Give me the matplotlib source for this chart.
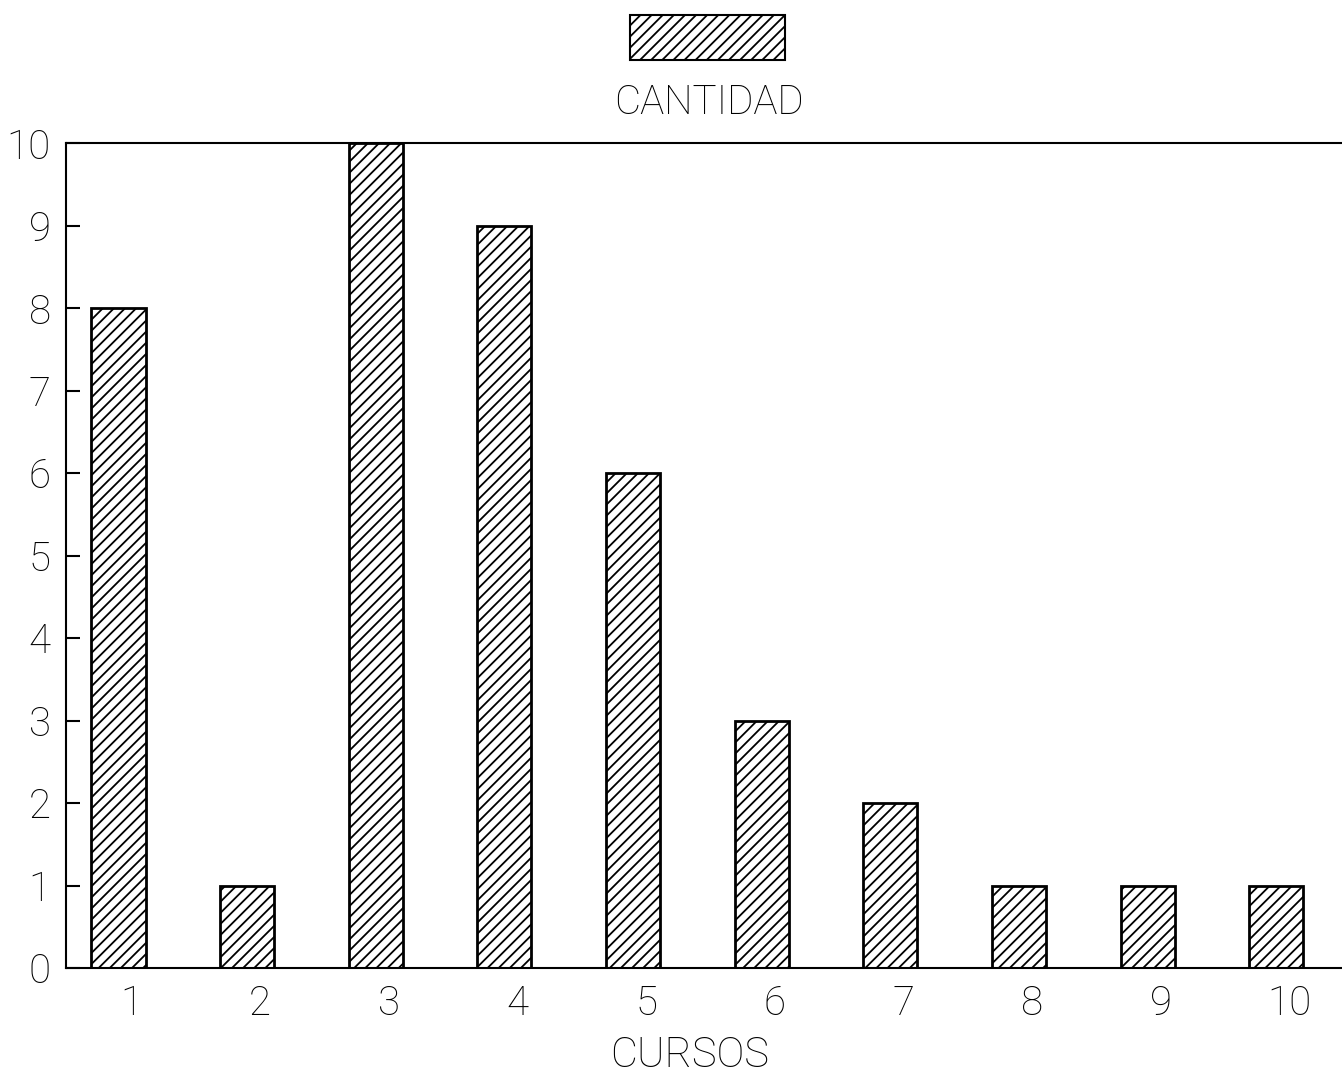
import matplotlib
matplotlib.use("Agg")
from matplotlib import pyplot as plt
from matplotlib import transforms
from matplotlib.patches import Rectangle

cursos = [1, 2, 3, 4, 5, 6, 7, 8, 9, 10]
cantidad = [8, 1, 10, 9, 6, 3, 2, 1, 1, 1]
y_ticks = [0, 1, 2, 3, 4, 5, 6, 7, 8, 9, 10]
legend_label = "CANTIDAD"
x_label = "CURSOS"

plt.rcParams['font.family'] = ['Roboto', 'DejaVu Sans']
plt.rcParams['hatch.linewidth'] = 1.3

fig = plt.figure(figsize=(13.42, 10.78), dpi=100)
ax = fig.add_axes([0.0492, 0.102, 0.9508, 0.765])

ax.bar(cursos, cantidad, width=0.42, color="white", edgecolor="black",
       linewidth=2, hatch="///")

ax.set_xlim(0.592, 10.51)
ax.set_ylim(0, 10)
ax.set_yticks(y_ticks)
ax.set_xticks(cursos)
ax.set_xticklabels([str(c) for c in cursos])

ax.tick_params(axis="y", direction="in", length=10, width=1.5, pad=11,
               labelsize=29)
ax.tick_params(axis="x", length=0, pad=12, labelsize=29)
for lab in ax.get_xticklabels() + ax.get_yticklabels():
    lab.set_fontweight("light")

# labels in the original sit a little right of the bar centres
shift = transforms.ScaledTranslation(0.13, 0, fig.dpi_scale_trans)
for lab in ax.get_xticklabels():
    lab.set_transform(lab.get_transform() + shift)

ax.spines["right"].set_visible(False)
for s in ["left", "top", "bottom"]:
    ax.spines[s].set_linewidth(1.5)

fig.text(0.514, 0.0213, x_label, ha="center", va="center", fontsize=30,
         fontweight="light")

# legend: hatched box with the label underneath
fig.patches.append(Rectangle((0.4694, 0.9443), 0.1155, 0.0417,
                             transform=fig.transFigure, facecolor="white",
                             edgecolor="black", linewidth=1.5, hatch="///"))
fig.text(0.528, 0.9045, legend_label, ha="center", va="center", fontsize=29,
         fontweight="light")

plt.savefig("out.png", dpi=100)
